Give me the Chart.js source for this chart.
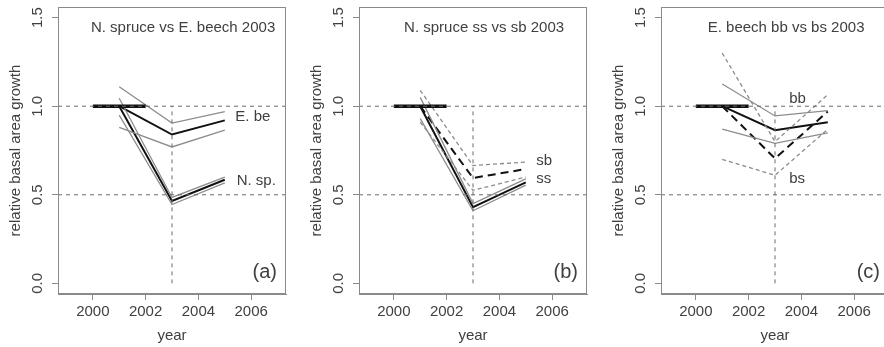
<!DOCTYPE html>
<html>
<head>
<meta charset="utf-8">
<script src="https://cdn.jsdelivr.net/npm/chart.js@4.4.1/dist/chart.umd.min.js"></script>
<style>
html, body { margin: 0; padding: 0; background: #fff; overflow: hidden; width: 884px; height: 347px; }
.panel { position: absolute; top: 0; }
</style>
</head>
<body>
<canvas id="panelA" class="panel" width="302" height="347" style="left:0px"></canvas>
<canvas id="panelB" class="panel" width="302" height="347" style="left:301px"></canvas>
<canvas id="panelC" class="panel" width="302" height="347" style="left:603px"></canvas>
<script>
// shared axes
const years = [2001, 2003, 2005];
const baseYears = [2000, 2002];
const baseLevel = [1.0, 1.0];
const xTicks = [2000, 2002, 2004, 2006];
const yTicks = [0, 0.5, 1.0, 1.5];
const yTickLabels = ["0.0", "0.5", "1.0", "1.5"];
const xLimits = [1998.68, 2007.32];
const yLimits = [-0.06, 1.56];
const refLevels = [1.0, 0.5];
const droughtYear = 2003;
const droughtSpan = [0, 1.0];

// (a) N. spruce vs E. beech
const beechMean = [1.0, 0.84, 0.92];
const beechUpper = [1.11, 0.905, 0.97];
const beechLower = [0.88, 0.77, 0.865];
const spruceMean = [1.0, 0.465, 0.585];
const spruceUpper = [1.045, 0.485, 0.60];
const spruceLower = [0.95, 0.445, 0.567];

// (b) N. spruce ss vs sb
const ssMean = [1.0, 0.43, 0.57];
const ssUpper = [1.05, 0.45, 0.59];
const ssLower = [0.93, 0.41, 0.555];
const sbMean = [1.0, 0.595, 0.645];
const sbUpper = [1.09, 0.665, 0.685];
const sbLower = [0.91, 0.525, 0.60];

// (c) E. beech bb vs bs
const bbMean = [1.0, 0.865, 0.91];
const bbUpper = [1.125, 0.945, 0.975];
const bbLower = [0.87, 0.79, 0.85];
const bsMean = [1.0, 0.705, 0.97];
const bsUpper = [1.30, 0.80, 1.065];
const bsLower = [0.70, 0.61, 0.87];

const FONT = "'Liberation Sans', Arial, Helvetica, sans-serif";
const ink = "#111";
const grey = "#8c8c8c";
const refGrey = "#6a6a6a";
const boxGrey = "#8a8a8a";
const textGrey = "#404040";

Chart.defaults.font.family = FONT;

function line(xs, ys, color, width, dash) {
    return {
        data: xs.map((x, i) => ({ x: x, y: ys[i] })),
        borderColor: color,
        borderWidth: width,
        borderDash: dash || [],
        pointRadius: 0,
        tension: 0,
        fill: false
    };
}

function refLines() {
    return [
        line(xLimits, [refLevels[0], refLevels[0]], refGrey, 1, [4, 4]),
        line(xLimits, [refLevels[1], refLevels[1]], refGrey, 1, [4, 4]),
        line([droughtYear, droughtYear], droughtSpan, refGrey, 1, [4, 4]),
        line(baseYears, baseLevel, ink, 3.5)
    ];
}

const panelText = {
    id: "panelText",
    afterDraw(chart, args, opts) {
        const { ctx, chartArea: a, scales: { x, y } } = chart;
        ctx.save();
        ctx.strokeStyle = boxGrey;
        ctx.lineWidth = 1;
        ctx.strokeRect(a.left + 0.5, a.top + 0.5, a.right - a.left - 1, a.bottom - a.top - 1);
        ctx.fillStyle = textGrey;
        ctx.font = "15px " + FONT;
        ctx.textBaseline = "middle";
        ctx.textAlign = "center";
        ctx.fillText(opts.title, x.getPixelForValue(2003.42), y.getPixelForValue(1.445));
        ctx.textAlign = "left";
        opts.labels.forEach(l => ctx.fillText(l.text, x.getPixelForValue(l.x), y.getPixelForValue(l.y)));
        ctx.font = "20px " + FONT;
        ctx.textAlign = "right";
        ctx.fillText(opts.tag, a.right - 9, y.getPixelForValue(0.06));
        ctx.restore();
    }
};

function makePanel(id, series, title, tag, labels) {
    return new Chart(document.getElementById(id), {
        type: "line",
        data: { datasets: refLines().concat(series) },
        plugins: [panelText],
        options: {
            responsive: false,
            animation: false,
            layout: { padding: { top: 7, right: 16, bottom: 0, left: 0 } },
            plugins: {
                legend: { display: false },
                tooltip: { enabled: false },
                panelText: { title: title, tag: tag, labels: labels }
            },
            scales: {
                x: {
                    type: "linear",
                    min: xLimits[0],
                    max: xLimits[1],
                    afterBuildTicks: s => { s.ticks = xTicks.map(v => ({ value: v })); },
                    afterFit: s => { s.height = 53; s.paddingLeft = 0; s.paddingRight = 0; },
                    grid: { drawOnChartArea: false, tickLength: 6, color: boxGrey },
                    border: { color: boxGrey },
                    ticks: { color: textGrey, font: { size: 15 }, padding: 3, maxRotation: 0, callback: v => String(v) },
                    title: { display: true, text: "year", color: textGrey, font: { size: 15 }, padding: { top: 0, bottom: 2 } }
                },
                y: {
                    type: "linear",
                    min: yLimits[0],
                    max: yLimits[1],
                    afterBuildTicks: s => { s.ticks = yTicks.map(v => ({ value: v })); },
                    afterFit: s => { s.width = 58; s.paddingTop = 0; s.paddingBottom = 0; },
                    grid: { drawOnChartArea: false, tickLength: 6, color: boxGrey },
                    border: { color: boxGrey },
                    ticks: { color: textGrey, font: { size: 15 }, padding: 4, minRotation: 90, maxRotation: 90, crossAlign: "center", callback: (v, i) => yTickLabels[i] },
                    title: { display: true, text: "relative basal area growth", color: textGrey, font: { size: 15 }, padding: { top: 7, bottom: 0 } }
                }
            }
        }
    });
}

makePanel("panelA", [
    line(years, beechUpper, grey, 1.3),
    line(years, beechLower, grey, 1.3),
    line(years, spruceUpper, grey, 1.3),
    line(years, spruceLower, grey, 1.3),
    line(years, beechMean, ink, 2),
    line(years, spruceMean, ink, 2)
], "N. spruce vs E. beech 2003", "(a)", [
    { text: "E. be", x: 2005.4, y: 0.94 },
    { text: "N. sp.", x: 2005.45, y: 0.58 }
]);

makePanel("panelB", [
    line(years, sbUpper, grey, 1.3, [4, 3]),
    line(years, sbLower, grey, 1.3, [4, 3]),
    line(years, ssUpper, grey, 1.3),
    line(years, ssLower, grey, 1.3),
    line(years, sbMean, ink, 2, [8, 5]),
    line(years, ssMean, ink, 2)
], "N. spruce ss vs sb 2003", "(b)", [
    { text: "sb", x: 2005.4, y: 0.69 },
    { text: "ss", x: 2005.4, y: 0.59 }
]);

makePanel("panelC", [
    line(years, bsUpper, grey, 1.3, [4, 3]),
    line(years, bsLower, grey, 1.3, [4, 3]),
    line(years, bbUpper, grey, 1.3),
    line(years, bbLower, grey, 1.3),
    line(years, bsMean, ink, 2, [8, 5]),
    line(years, bbMean, ink, 2)
], "E. beech bb vs bs 2003", "(c)", [
    { text: "bb", x: 2003.54, y: 1.04 },
    { text: "bs", x: 2003.54, y: 0.59 }
]);
</script>
</body>
</html>
